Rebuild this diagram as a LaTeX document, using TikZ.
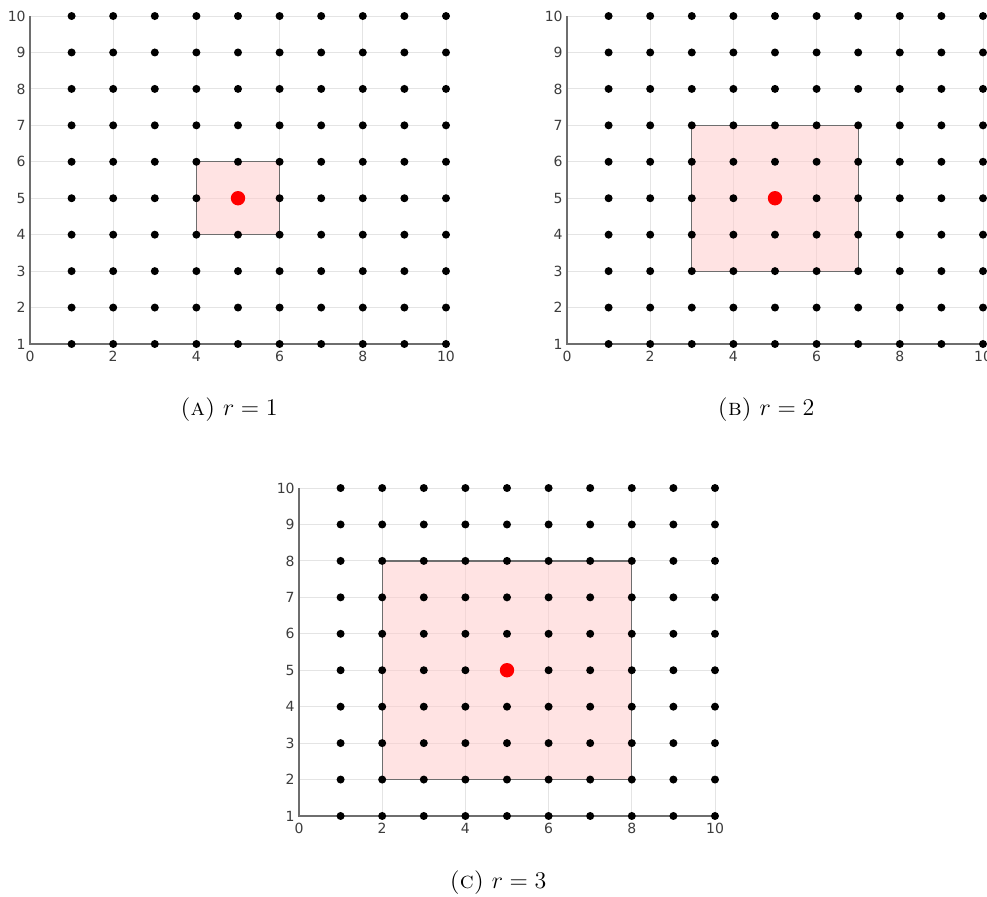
\documentclass[tikz,border=0pt]{standalone}
\usepackage{fontspec}
\newfontfamily\ticksfont{DejaVu Sans}
\usepackage{amsmath}
\usetikzlibrary{positioning}
\definecolor{ptred}{RGB}{255,0,0}
\definecolor{gridc}{RGB}{228,228,228}
\definecolor{axc}{RGB}{110,110,110}
\definecolor{labc}{RGB}{60,60,60}

\begin{document}
\begin{tikzpicture}[x=0.5pt,y=-0.5pt]
\tikzstyle{ticklabel}=[font=\ticksfont\fontsize{7}{8}\selectfont,text=labc,inner sep=1pt]
\tikzstyle{captext}=[font=\fontsize{11.8}{13}\selectfont,inner sep=0pt]
\tikzstyle{win}=[fill=red!20,fill opacity=0.55,draw=axc,line width=0.6pt]
\useasboundingbox (0,0) rectangle (987,897);
\foreach \r/\ox/\oy/\lab/\cx/\cy in {1/30/380.44/a/229/410, 2/567/380.44/b/766/410, 3/299/852.44/c/498/883}{
  \node[captext] (cap\lab) at (\cx,\cy) {\textsc{(\lab)} $r=\r$};
  \begin{scope}[shift={(\ox*0.5pt,-\oy*0.5pt)},x=20.8pt,y=18.22pt]
    % grid
    \draw[gridc,line width=0.5pt] foreach \g in {2,4,...,10} {(\g,1)--(\g,10)}
      foreach \g in {2,...,10} {(0,\g)--(10,\g)};
    % neighbourhood of radius r
    \draw[win] (5-\r,5-\r) rectangle (5+\r,5+\r);
    \draw[axc,line width=0.6pt] (0,10)--(0,1)--(10,1);
    \foreach \t in {0,2,...,10} \node[ticklabel,below=2.5pt] (x\lab\t) at (\t,1) {\t};
    \foreach \t in {1,...,10} \node[ticklabel,left=1pt] (y\lab\t) at (0,\t) {\t};
    % lattice points
    \foreach \i in {1,...,10} \foreach \j in {1,...,10} \fill (\i,\j) circle (2pt);
    \fill[ptred] (5,5) circle (3.6pt);
  \end{scope}
}
\end{tikzpicture}
\end{document}
